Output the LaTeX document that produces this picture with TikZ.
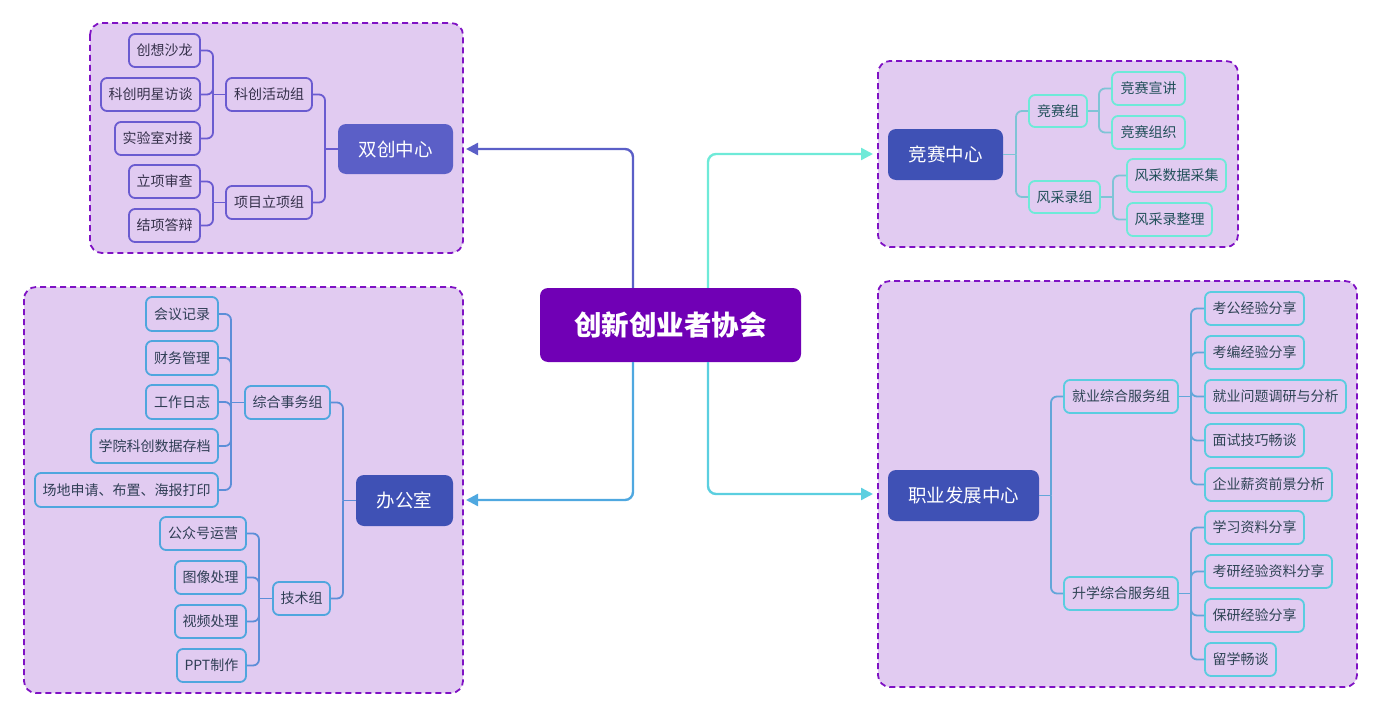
\documentclass[tikz,border=0pt]{standalone}
\usepackage{fontspec}
\setmainfont{Noto Sans CJK SC}
\usetikzlibrary{arrows.meta}
\definecolor{framefill}{HTML}{E1CBF1}
\definecolor{framedraw}{HTML}{7F12C4}
\definecolor{cpurple}{HTML}{7000B5}
\definecolor{tlmain}{HTML}{5B5FC7}
\definecolor{mainblue}{HTML}{3F51B5}
\definecolor{tlline}{HTML}{6A5BD0}
\definecolor{tltext}{HTML}{35304A}
\definecolor{trline}{HTML}{7FC4D6}
\definecolor{trborder}{HTML}{6EEAD8}
\definecolor{trtext}{HTML}{22505A}
\definecolor{blline}{HTML}{5C8ED8}
\definecolor{blborder}{HTML}{4FA6DE}
\definecolor{bltext}{HTML}{2F3E55}
\definecolor{brline}{HTML}{63A6D9}
\definecolor{brborder}{HTML}{5ACDE0}
\definecolor{brtext}{HTML}{2F4455}
\definecolor{arTL}{HTML}{5B5FC7}
\definecolor{arTR}{HTML}{6EEAD8}
\definecolor{arBL}{HTML}{4FA8E0}
\definecolor{arBR}{HTML}{5BCFE0}
\begin{document}
\begin{tikzpicture}[x=1pt,y=-1pt,
  frame/.style={draw=framedraw, fill=framefill, line width=1.8pt, dash pattern=on 6pt off 4pt, rounded corners=12pt},
  leaf/.style={draw, line width=1.8pt, rounded corners=6pt, inner sep=0pt, minimum height=33pt, fill=framefill, font=\fontsize{14}{16}\selectfont},
  mainnode/.style={fill=mainblue, text=white, rounded corners=8pt, inner sep=0pt, minimum height=51pt, font=\fontsize{18.5}{22}\selectfont},
  tl/.style={leaf, draw=tlline, text=tltext},
  tr/.style={leaf, draw=trborder, text=trtext},
  bl/.style={leaf, draw=blborder, text=bltext},
  br/.style={leaf, draw=brborder, text=brtext},
  tlc/.style={draw=tlline, line width=1.8pt, rounded corners=6pt},
  trc/.style={draw=trline, line width=1.8pt, rounded corners=6pt},
  blc/.style={draw=blline, line width=1.8pt, rounded corners=6pt},
  brc/.style={draw=brline, line width=1.8pt, rounded corners=6pt},
  bigarrow/.style={line width=2.4pt, rounded corners=8pt, -{Triangle[length=12pt,width=12pt]}}
]
\useasboundingbox (0,0) rectangle (1376,709);
% frames
\path[frame] (90,23) rectangle (463,253);
\path[frame] (878,61) rectangle (1238,247);
\path[frame] (24,287) rectangle (463,693);
\path[frame] (878,281) rectangle (1357,687);

% center
\node[fill=cpurple, text=white, rounded corners=8pt, inner sep=0pt, minimum width=261pt, minimum height=74pt, font=\fontsize{27.5}{32}\selectfont\bfseries] (c) at (670.5,325) {创新创业者协会};

% main nodes
\node[mainnode, fill=tlmain, minimum width=115pt, minimum height=50pt] (sc) at (395.5,149) {双创中心};
\node[mainnode, minimum width=115pt] (js) at (945.5,154.5) {竞赛中心};
\node[mainnode, minimum width=97pt] (bg) at (404.5,500.5) {办公室};
\node[mainnode, minimum width=151pt] (zy) at (963.5,495.5) {职业发展中心};

% arrows from center
\coordinate (aTL) at (466,149);
\coordinate (aTR) at (873,154);
\coordinate (aBL) at (466,500);
\coordinate (aBR) at (873,494);
\draw[bigarrow, draw=arTL] ([xshift=-37.5pt]c.north) |- (aTL);
\draw[bigarrow, draw=arTR] ([xshift=37.5pt]c.north) |- (aTR);
\draw[bigarrow, draw=arBL] ([xshift=-37.5pt]c.south) |- (aBL);
\draw[bigarrow, draw=arBR] ([xshift=37.5pt]c.south) |- (aBR);

% ---------- top-left subtree ----------
\node[tl, minimum width=86pt] (kc) at (269,94.5) {科创活动组};
\node[tl, minimum width=86pt] (xm) at (269,202.5) {项目立项组};
\node[tl, minimum width=71pt] (l1) at (164.5,50.5) {创想沙龙};
\node[tl, minimum width=99pt] (l2) at (150.5,94.5) {科创明星访谈};
\node[tl, minimum width=85pt] (l3) at (157.5,138.5) {实验室对接};
\node[tl, minimum width=71pt] (l4) at (164.5,181.5) {立项审查};
\node[tl, minimum width=71pt] (l5) at (164.5,225.5) {结项答辩};
\coordinate (jsc) at (325,149);
\coordinate (jkc) at (213,94.5);
\coordinate (jxm) at (213,202.5);
\draw[tlc] (sc.west) -- (jsc);
\foreach \n in {kc,xm} \draw[tlc] (jsc) |- (\n.east);
\draw[tlc] (kc.west) -- (jkc);
\foreach \n in {l1,l2,l3} \draw[tlc] (jkc) |- (\n.east);
\draw[tlc] (xm.west) -- (jxm);
\foreach \n in {l4,l5} \draw[tlc] (jxm) |- (\n.east);

% ---------- top-right subtree ----------
\node[tr, minimum width=58pt, minimum height=32pt] (jsz) at (1058,111) {竞赛组};
\node[tr, minimum width=71pt, minimum height=32pt] (fcl) at (1064.5,197) {风采录组};
\node[tr, minimum width=73pt] (r1) at (1148.5,88.5) {竞赛宣讲};
\node[tr, minimum width=73pt] (r2) at (1148.5,132.5) {竞赛组织};
\node[tr, minimum width=99pt] (r3) at (1176.5,175.5) {风采数据采集};
\node[tr, minimum width=85pt] (r4) at (1169.5,219.5) {风采录整理};
\coordinate (jjs) at (1016,154.5);
\coordinate (jjsz) at (1099,111);
\coordinate (jfcl) at (1113,197);
\draw[trc] (js.east) -- (jjs);
\foreach \n in {jsz,fcl} \draw[trc] (jjs) |- (\n.west);
\draw[trc] (jsz.east) -- (jjsz);
\foreach \n in {r1,r2} \draw[trc] (jjsz) |- (\n.west);
\draw[trc] (fcl.east) -- (jfcl);
\foreach \n in {r3,r4} \draw[trc] (jfcl) |- (\n.west);

% ---------- bottom-left subtree ----------
\node[bl, minimum width=85pt] (zh) at (287.5,402.5) {综合事务组};
\node[bl, minimum width=57pt] (jsh) at (301.5,598.5) {技术组};
\node[bl, minimum width=72pt, minimum height=34pt] (b1) at (182,314) {会议记录};
\node[bl, minimum width=72pt, minimum height=34pt] (b2) at (182,358) {财务管理};
\node[bl, minimum width=72pt, minimum height=34pt] (b3) at (182,402) {工作日志};
\node[bl, minimum width=127pt, minimum height=34pt] (b4) at (154.5,446) {学院科创数据存档};
\node[bl, minimum width=183pt, minimum height=34pt] (b5) at (126.5,490) {场地申请、布置、海报打印};
\node[bl, minimum width=86pt] (b6) at (203,533.5) {公众号运营};
\node[bl, minimum width=71pt] (b7) at (210.5,577.5) {图像处理};
\node[bl, minimum width=71pt] (b8) at (210.5,621.5) {视频处理};
\node[bl, minimum width=69pt] (b9) at (211.5,665.5) {PPT制作};
\coordinate (jbg) at (343,500.5);
\coordinate (jzh) at (231,402.5);
\coordinate (jjsh) at (259,598.5);
\draw[blc] (bg.west) -- (jbg);
\foreach \n in {zh,jsh} \draw[blc] (jbg) |- (\n.east);
\draw[blc] (zh.west) -- (jzh);
\foreach \n in {b1,b2,b3,b4,b5} \draw[blc] (jzh) |- (\n.east);
\draw[blc] (jsh.west) -- (jjsh);
\foreach \n in {b6,b7,b8,b9} \draw[blc] (jjsh) |- (\n.east);

% ---------- bottom-right subtree ----------
\node[br, minimum width=114pt] (jy) at (1121,396.5) {就业综合服务组};
\node[br, minimum width=114pt] (sx) at (1121,593.5) {升学综合服务组};
\node[br, minimum width=99pt] (e1) at (1254.5,308.5) {考公经验分享};
\node[br, minimum width=99pt] (e2) at (1254.5,352.5) {考编经验分享};
\node[br, minimum width=141pt] (e3) at (1275.5,396.5) {就业问题调研与分析};
\node[br, minimum width=99pt] (e4) at (1254.5,440.5) {面试技巧畅谈};
\node[br, minimum width=127pt] (e5) at (1268.5,484.5) {企业薪资前景分析};
\node[br, minimum width=99pt] (e6) at (1254.5,527.5) {学习资料分享};
\node[br, minimum width=127pt] (e7) at (1268.5,571.5) {考研经验资料分享};
\node[br, minimum width=99pt] (e8) at (1254.5,615.5) {保研经验分享};
\node[br, minimum width=71pt] (e9) at (1240.5,659.5) {留学畅谈};
\coordinate (jzy) at (1051,495.5);
\coordinate (jjy) at (1191,396.5);
\coordinate (jsx) at (1191,593.5);
\draw[brc] (zy.east) -- (jzy);
\foreach \n in {jy,sx} \draw[brc] (jzy) |- (\n.west);
\draw[brc] (jy.east) -- (jjy);
\foreach \n in {e1,e2,e3,e4,e5} \draw[brc] (jjy) |- (\n.west);
\draw[brc] (sx.east) -- (jsx);
\foreach \n in {e6,e7,e8,e9} \draw[brc] (jsx) |- (\n.west);
\end{tikzpicture}
\end{document}
